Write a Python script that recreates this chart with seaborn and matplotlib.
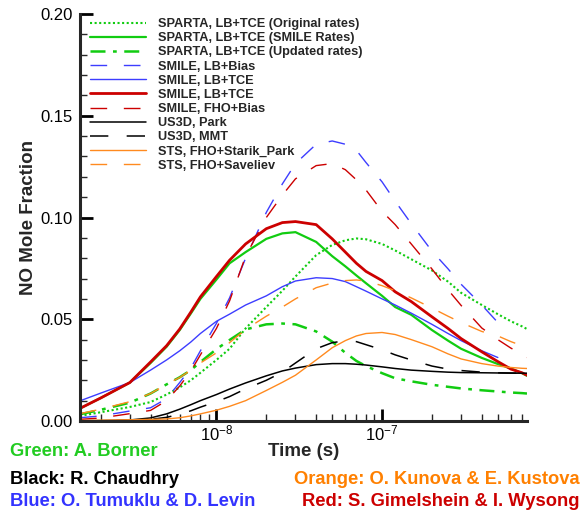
import numpy as np
import pandas as pd
import matplotlib
matplotlib.use("Agg")
import matplotlib.pyplot as plt
import matplotlib.ticker as mticker
import seaborn as sns

# ---------------- data ----------------
time_s = [1.5e-9, 2e-9, 3e-9, 4e-9, 5e-9, 6e-9, 7e-9, 8e-9, 1e-8, 1.2e-8,
          1.5e-8, 2e-8, 2.5e-8, 3e-8, 4e-8, 5e-8, 6e-8, 7e-8, 8e-8, 1e-7,
          1.2e-7, 1.5e-7, 2e-7, 2.5e-7, 3e-7, 4e-7, 5e-7, 6e-7, 7e-7, 7.5e-7]
time_blue = time_s[:27]  # SMILE LB runs stop at 5e-7

sparta_original = [0.0025, 0.0043, 0.0069, 0.0093, 0.0130, 0.0165, 0.0200, 0.0237, 0.0300, 0.0355,
                   0.0455, 0.0560, 0.0640, 0.0710, 0.0815, 0.0865, 0.0888, 0.0897, 0.0893, 0.0870,
                   0.0838, 0.0795, 0.0740, 0.0685, 0.0630, 0.0570, 0.0525, 0.0490, 0.0465, 0.0452]
sparta_smile = [0.0062, 0.0113, 0.0189, 0.0285, 0.0365, 0.0447, 0.0528, 0.0600, 0.0695, 0.0775,
                0.0830, 0.0895, 0.0922, 0.0928, 0.0880, 0.0810, 0.0760, 0.0715, 0.0677, 0.0615,
                0.0560, 0.0522, 0.0447, 0.0395, 0.0355, 0.0310, 0.0280, 0.0258, 0.0235, 0.0222]
sparta_updated = [0.0033, 0.0055, 0.0090, 0.0135, 0.0180, 0.0215, 0.0250, 0.0290, 0.0353, 0.0398,
                  0.0450, 0.0475, 0.0479, 0.0475, 0.0440, 0.0390, 0.0335, 0.0295, 0.0270, 0.0235,
                  0.0210, 0.0195, 0.0178, 0.0168, 0.0160, 0.0151, 0.0145, 0.0140, 0.0137, 0.0135]
smile_lb_bias = [0.0016, 0.0025, 0.0049, 0.0065, 0.0110, 0.0189, 0.0260, 0.0345, 0.0480, 0.0605,
                 0.0800, 0.1025, 0.1165, 0.1265, 0.1360, 0.1376, 0.1360, 0.1330, 0.1270, 0.1175,
                 0.1080, 0.0970, 0.0835, 0.0748, 0.0672, 0.0570, 0.0484]
smile_lb_tce_blue = [0.0099, 0.0137, 0.0189, 0.0250, 0.0300, 0.0345, 0.0388, 0.0430, 0.0490, 0.0525,
                     0.0570, 0.0615, 0.0660, 0.0688, 0.0704, 0.0700, 0.0685, 0.0660, 0.0638, 0.0600,
                     0.0570, 0.0530, 0.0475, 0.0430, 0.0395, 0.0345, 0.0312]
smile_lb_tce_red = [0.0062, 0.0113, 0.0189, 0.0290, 0.0370, 0.0452, 0.0535, 0.0610, 0.0710, 0.0790,
                    0.0870, 0.0945, 0.0975, 0.0980, 0.0965, 0.0895, 0.0830, 0.0775, 0.0735, 0.0690,
                    0.0635, 0.0587, 0.0512, 0.0455, 0.0405, 0.0340, 0.0292, 0.0255, 0.0237, 0.0225]
smile_fho_bias = [0.0008, 0.0015, 0.0036, 0.0052, 0.0100, 0.0172, 0.0245, 0.0325, 0.0455, 0.0590,
                  0.0810, 0.1000, 0.1110, 0.1190, 0.1255, 0.1265, 0.1235, 0.1185, 0.1135, 0.1030,
                  0.0965, 0.0870, 0.0747, 0.0645, 0.0568, 0.0457, 0.0400, 0.0358, 0.0328, 0.0312]
us3d_park = [0.0001, 0.0002, 0.0005, 0.0015, 0.0035, 0.0058, 0.0080, 0.0100, 0.0130, 0.0157,
             0.0187, 0.0222, 0.0246, 0.0260, 0.0277, 0.0282, 0.0282, 0.0279, 0.0275, 0.0266,
             0.0258, 0.0250, 0.0244, 0.0240, 0.0238, 0.0237, 0.0236, 0.0235, 0.0235, 0.0235]
us3d_mmt = [0.0000, 0.0001, 0.0003, 0.0008, 0.0018, 0.0033, 0.0050, 0.0068, 0.0095, 0.0120,
            0.0158, 0.0200, 0.0240, 0.0285, 0.0355, 0.0385, 0.0394, 0.0390, 0.0375, 0.0350,
            0.0325, 0.0300, 0.0270, 0.0255, 0.0248, 0.0240, 0.0237, 0.0236, 0.0235, 0.0235]
sts_starik_park = [0.0003, 0.0004, 0.0006, 0.0008, 0.0010, 0.0016, 0.0025, 0.0035, 0.0053, 0.0072,
                   0.0100, 0.0150, 0.0190, 0.0225, 0.0300, 0.0360, 0.0395, 0.0418, 0.0430, 0.0435,
                   0.0425, 0.0400, 0.0365, 0.0330, 0.0305, 0.0282, 0.0270, 0.0263, 0.0259, 0.0258]
sts_saveliev = [0.0036, 0.0058, 0.0095, 0.0135, 0.0180, 0.0214, 0.0250, 0.0285, 0.0335, 0.0385,
                0.0450, 0.0515, 0.0560, 0.0600, 0.0655, 0.0678, 0.0690, 0.0693, 0.0688, 0.0665,
                0.0640, 0.0605, 0.0555, 0.0515, 0.0484, 0.0440, 0.0418, 0.0390, 0.0370, 0.0358]

labels = ["SPARTA, LB+TCE (Original rates)", "SPARTA, LB+TCE (SMILE Rates)",
          "SPARTA, LB+TCE (Updated rates)", "SMILE, LB+Bias", "SMILE, LB+TCE",
          "SMILE, LB+TCE", "SMILE, FHO+Bias", "US3D, Park", "US3D, MMT",
          "STS, FHO+Starik_Park", "STS, FHO+Saveliev"]
x_ticks = [1e-8, 1e-7]
y_ticks = [0.00, 0.05, 0.10, 0.15, 0.20]

GREEN = "#11cc11"
BLUE = "#3d3dff"
RED = "#cc0000"
BLACK = "#000000"
ORANGE = "#ff8a1f"

series = [
    (time_s, sparta_original, GREEN, (0, (1, 1.2)), 1.5),
    (time_s, sparta_smile, GREEN, "-", 1.6),
    (time_s, sparta_updated, GREEN, (0, (6, 3, 1.5, 3)), 1.8),
    (time_blue, smile_lb_bias, BLUE, (0, (12, 12)), 1.0),
    (time_blue, smile_lb_tce_blue, BLUE, "-", 1.0),
    (time_s, smile_lb_tce_red, RED, "-", 2.0),
    (time_s, smile_fho_bias, RED, (0, (12, 12)), 1.0),
    (time_s, us3d_park, BLACK, "-", 1.1),
    (time_s, us3d_mmt, BLACK, (0, (12, 12)), 1.1),
    (time_s, sts_starik_park, ORANGE, "-", 1.0),
    (time_s, sts_saveliev, ORANGE, (0, (12, 12)), 1.0),
]

# ---------------- style ----------------
sns.set_style("ticks")
plt.rcParams["font.family"] = ["Liberation Sans", "DejaVu Sans"]
plt.rcParams["mathtext.fontset"] = "custom"
plt.rcParams["mathtext.rm"] = "Liberation Sans"
plt.rcParams["mathtext.it"] = "Liberation Sans:italic"
plt.rcParams["mathtext.bf"] = "Liberation Sans:bold"

fig = plt.figure(figsize=(5.82, 5.16), dpi=100)
W, H = 582, 516
ax_w, ax_h = (527 - 80), (421 - 14)
ax = fig.add_axes([80 / W, 1 - 421 / H, ax_w / W, ax_h / H])

handles = []
for (tt, vals, col, ls, lw), lab in zip(series, labels):
    df = pd.DataFrame({"t": tt, "y": vals})
    sns.lineplot(data=df, x="t", y="y", ax=ax, color=col, linestyle=ls,
                 linewidth=lw, label=lab, legend=False, errorbar=None)
    handles.append(ax.get_lines()[-1])

ax.set_xscale("log")
ax.set_xlim(1.5e-9, 7.5e-7)
ax.set_ylim(0, 0.20)
ax.set_yticks(y_ticks)
ax.yaxis.set_major_formatter(mticker.FormatStrFormatter("%.2f"))
ax.yaxis.set_minor_locator(mticker.MultipleLocator(0.01))
ax.xaxis.set_major_locator(mticker.FixedLocator(x_ticks))
ax.xaxis.set_major_formatter(mticker.LogFormatterSciNotation())
ax.xaxis.set_minor_locator(mticker.LogLocator(base=10, subs=np.arange(2, 10), numticks=20))
ax.xaxis.set_minor_formatter(mticker.NullFormatter())

for s in ["top", "right"]:
    ax.spines[s].set_visible(False)
for s in ["left", "bottom"]:
    ax.spines[s].set_linewidth(2.2)

ax.tick_params(which="major", direction="in", length=9, width=2, labelsize=12,
               colors="black", pad=5)
ax.tick_params(which="minor", direction="in", length=5, width=1.0)
ax.tick_params(axis="x", which="major", pad=2)

ax.set_xlabel("Time (s)", fontsize=13.5, fontweight="bold")
ax.set_ylabel("NO Mole Fraction", fontsize=13.5, fontweight="bold")
ax.xaxis.label.set_va("center")
ax.xaxis.set_label_coords(0.5, -(452 - 421) / ax_h)
ax.yaxis.label.set_va("center")
ax.yaxis.set_label_coords(-(80 - 29) / ax_w, 0.5)

ax.legend(handles, labels, loc="upper left",
          bbox_to_anchor=(90 / W, 1 - 18 / H), bbox_transform=fig.transFigure,
          frameon=False, borderpad=0, borderaxespad=0, handlelength=4.4,
          handletextpad=0.9, labelspacing=0.17,
          prop={"weight": "bold", "size": 9.2, "family": "Liberation Sans"})

txt_kw = dict(fontsize=13.2, fontweight="bold", va="center")
fig.text(10 / W, 1 - 452 / H, "Green: A. Borner", color="#22cc22", ha="left", **txt_kw)
fig.text(10 / W, 1 - 479 / H, "Black: R. Chaudhry", color="black", ha="left", **txt_kw)
fig.text(580 / W, 1 - 479 / H, "Orange: O. Kunova & E. Kustova", color="#ff8000", ha="right", **txt_kw)
fig.text(10 / W, 1 - 501 / H, "Blue: O. Tumuklu & D. Levin", color="#3333ff", ha="left", **txt_kw)
fig.text(580 / W, 1 - 501 / H, "Red: S. Gimelshein & I. Wysong", color="#cc0000", ha="right", **txt_kw)

fig.savefig("out.png", dpi=100)
